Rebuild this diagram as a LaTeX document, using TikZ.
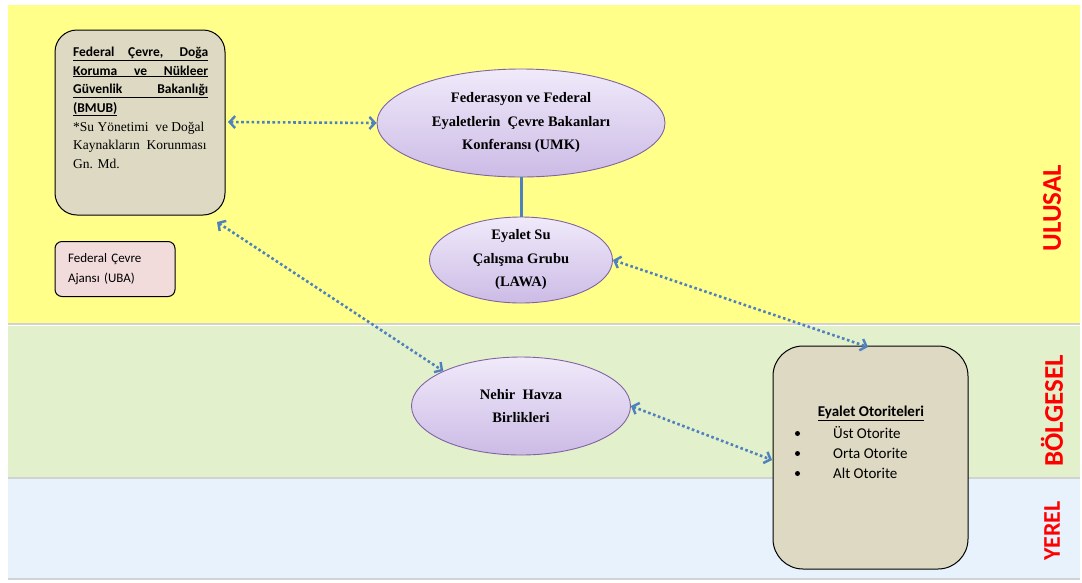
\documentclass[tikz,border=0pt]{standalone}
\usepackage{fontspec}
\setmainfont{Liberation Serif}
\newfontfamily\calfont{Carlito}
\usetikzlibrary{arrows.meta,shapes.geometric,shadows}
\definecolor{bandY}{HTML}{FFFF8A}
\definecolor{bandG}{HTML}{E3F0CC}
\definecolor{bandB}{HTML}{E8F2FD}
\definecolor{tanfill}{HTML}{DDD9C3}
\definecolor{pinkbox}{HTML}{F2DCDB}
\definecolor{lavT}{HTML}{F0EAFA}
\definecolor{lavB}{HTML}{CCBBE6}
\definecolor{lavD}{HTML}{8064A2}
\definecolor{arrB}{HTML}{4F81BD}
\definecolor{lblR}{HTML}{FF0000}
\tikzset{
  band/.style={draw=none, drop shadow={shadow xshift=0pt, shadow yshift=-2pt, opacity=0.35}},
  tanbox/.style={draw=black, line width=1pt, fill=tanfill, rounded corners=22pt},
  lav/.style={ellipse, draw=lavD, line width=0.9pt, top color=lavT, bottom color=lavB, inner sep=0pt, align=center, font=\fontsize{14.5}{23.5}\selectfont\bfseries},
  dotarr/.style={draw=arrB, line width=2.6pt, dash pattern=on 2.6pt off 2.6pt, {Straight Barb[length=5.5pt,width=12pt,line width=2.4pt]}-{Straight Barb[length=5.5pt,width=12pt,line width=2.4pt]}},
  side/.style={rotate=90, text=lblR, font=\calfont\fontsize{27}{30}\selectfont\bfseries},
  eytxt/.style={anchor=west, inner sep=0pt, font=\calfont\fontsize{15}{20}\selectfont}
}
\begin{document}
\begin{tikzpicture}[x=1pt,y=-1pt]
\useasboundingbox (0,0) rectangle (1082,582);
\fill[white] (0,0) rectangle (1082,582);
% bands
\path[band, fill=bandB] (8,479) rectangle (1080,578);
\path[band, fill=bandG] (8,326) rectangle (1080,477);
\path[band, fill=bandY] (8,5) rectangle (1080,323);
% side labels
\node[side] (lU) at (1052,208) {ULUSAL};
\node[side] (lB) at (1052,411) {BÖLGESEL};
\node[side, font=\calfont\fontsize{24}{30}\selectfont\bfseries] (lY) at (1052,531) {YEREL};
% BMUB box
\path[tanbox] (55,30) rectangle (225,215);
\node[anchor=north west, inner sep=0pt, align=left, font=\fontsize{13.5}{18.5}\selectfont] (bmub) at (73,47) {%
{\calfont\bfseries\underline{\makebox[135pt][s]{Federal Çevre, Doğa}}}\\
{\calfont\bfseries\underline{\makebox[135pt][s]{Koruma ve Nükleer}}}\\
{\calfont\bfseries\underline{\makebox[135pt][s]{Güvenlik Bakanlığı}}}\\
{\calfont\bfseries\underline{(BMUB)}}\\[0.5pt]
*Su Yönetimi\ \ ve Doğal\\
Kaynakların\ \ Korunması\\
Gn. Md.};
\coordinate (bmubR) at (228,122);
\coordinate (bmubB) at (217,222);
% UBA box
\node[draw=black, line width=1pt, fill=pinkbox, rounded corners=7pt, minimum width=120pt, minimum height=55pt, text width=94pt, align=left, font=\calfont\fontsize{13}{20}\selectfont] (uba) at (115,269) {Federal Çevre\\Ajansı (UBA)};
% ellipses
\node[lav, minimum width=288pt, minimum height=108pt] (umk) at (521,123) {Federasyon ve Federal\\Eyaletlerin\ \ Çevre Bakanları\\Konferansı (UMK)};
\node[lav, minimum width=183pt, minimum height=86pt] (lawa) at (521,260) {Eyalet Su\\Çalışma Grubu\\(LAWA)};
\node[lav, minimum width=219pt, minimum height=98pt] (nehir) at (521,406) {Nehir\ \ Havza\\Birlikleri};
% Eyalet box
\path[tanbox, rounded corners=30pt] (773,346) rectangle (968,569);
\node[anchor=center, inner sep=0pt, font=\calfont\fontsize{15}{20}\selectfont\bfseries] (eyT) at (871,413) {\underline{Eyalet Otoriteleri}};
\node[eytxt] (e1) at (833,433) {Üst Otorite};
\node[eytxt] (e2) at (833,453) {Orta Otorite};
\node[eytxt] (e3) at (833,473) {Alt Otorite};
\fill (797.5,433.5) circle (2.5pt);
\fill (797.5,453.5) circle (2.5pt);
\fill (797.5,473.5) circle (2.5pt);
\coordinate (eyTop) at (868,347);
\coordinate (eyLeft) at (772,460);
% connectors
\draw[arrB, line width=3pt] (umk.south) -- (lawa.north);
\draw[dotarr] (bmubR) -- (umk.west);
\draw[dotarr] (bmubB) -- (nehir.north west);
\draw[dotarr] (lawa.east) -- (eyTop);
\draw[dotarr] (nehir.east) -- (eyLeft);
\end{tikzpicture}
\end{document}
